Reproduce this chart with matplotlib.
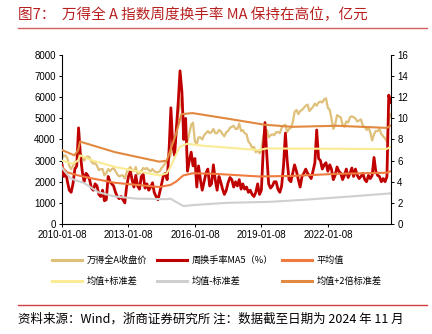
import matplotlib
matplotlib.use("Agg")
import matplotlib.pyplot as plt
import matplotlib.dates as mdates
from matplotlib.lines import Line2D
import pandas as pd
import numpy as np

plt.rcParams['font.family'] = ['Noto Sans CJK SC', 'DejaVu Sans']

# ---------------- data (monthly readings) ----------------
index_close = [
    # 2010
    3300, 3200, 3250, 3100, 2750, 2600, 2750, 2950, 2900, 3300, 3350, 3150,
    # 2011
    3000, 3150, 3200, 3150, 2950, 2850, 2900, 2750, 2550, 2600, 2600, 2300,
    # 2012
    2400, 2600, 2500, 2600, 2650, 2500, 2350, 2250, 2300, 2300, 2150, 2450,
    # 2013
    2600, 2700, 2550, 2500, 2700, 2350, 2400, 2500, 2650, 2600, 2650, 2550,
    # 2014
    2500, 2600, 2500, 2450, 2450, 2500, 2650, 2750, 2900, 2950, 3100, 3300,
    # 2015
    3500, 3700, 4300, 5200, 5600, 6100, 4800, 4300, 3900, 4300, 4700, 4800,
    # 2016
    3900, 3800, 4100, 4100, 4000, 4200, 4300, 4400, 4300, 4350, 4500, 4300,
    # 2017
    4300, 4450, 4400, 4250, 4150, 4350, 4400, 4550, 4600, 4650, 4500, 4500,
    # 2018
    4750, 4400, 4450, 4300, 4250, 3900, 3800, 3600, 3650, 3400, 3500, 3350,
    # 2019
    3500, 4100, 4450, 4450, 4100, 4200, 4250, 4200, 4350, 4350, 4300, 4550,
    # 2020
    4650, 4700, 4350, 4500, 4550, 4800, 5300, 5400, 5200, 5350, 5400, 5500,
    # 2021
    5600, 5650, 5350, 5450, 5550, 5700, 5600, 5750, 5800, 5750, 5900, 5950,
    # 2022
    5500, 5400, 5000, 4500, 4700, 5150, 5100, 5050, 4700, 4600, 4850, 4800,
    # 2023
    5050, 5100, 5050, 5000, 4850, 4900, 4950, 4650, 4600, 4450, 4550, 4350,
    # 2024
    3950, 4250, 4400, 4400, 4500, 4250, 4150, 4050, 3900, 4950, 5200,
]

turnover_ma5 = [
    # 2010
    5.6, 4.5, 5.0, 4.0, 3.2, 3.0, 3.8, 5.2, 5.5, 9.1, 6.5, 5.0,
    # 2011
    4.0, 4.8, 4.6, 4.2, 3.4, 3.2, 3.8, 3.6, 2.8, 2.6, 3.2, 2.2,
    # 2012
    2.3, 4.5, 4.0, 3.8, 3.6, 3.0, 2.6, 2.4, 2.6, 2.3, 2.0, 3.5,
    # 2013
    4.5, 5.0, 4.2, 3.5, 4.6, 3.6, 3.3, 4.5, 4.7, 3.4, 3.8, 3.2,
    # 2014
    3.5, 3.9, 3.0, 2.6, 2.3, 3.0, 3.8, 4.6, 4.8, 4.2, 7.0, 11.0,
    # 2015
    7.5, 6.5, 9.0, 11.5, 14.5, 12.5, 8.0, 10.0, 5.0, 6.0, 6.8, 5.5,
    # 2016
    6.2, 3.5, 5.5, 4.2, 3.2, 4.0, 4.8, 5.2, 3.6, 3.8, 5.6, 4.2,
    # 2017
    3.2, 4.5, 4.0, 3.3, 2.8, 3.2, 3.9, 4.4, 4.2, 3.5, 4.0, 3.6,
    # 2018
    4.2, 3.3, 3.8, 3.3, 3.5, 3.0, 3.2, 2.8, 2.6, 3.0, 3.8, 2.8,
    # 2019
    3.2, 7.0, 9.6, 6.5, 3.8, 3.4, 3.6, 4.0, 4.0, 3.3, 3.0, 3.6,
    # 2020
    5.5, 8.6, 6.0, 4.2, 4.0, 4.8, 5.6, 5.0, 4.2, 3.5, 4.5, 4.8,
    # 2021
    5.2, 4.8, 4.6, 4.3, 5.0, 5.8, 8.9, 6.2, 6.0, 5.2, 5.6, 5.8,
    # 2022
    5.0, 5.6, 5.2, 4.2, 4.6, 5.4, 5.0, 4.8, 4.2, 4.6, 5.2, 4.4,
    # 2023
    4.8, 5.3, 4.5, 5.2, 4.6, 4.3, 4.5, 4.8, 4.2, 4.0, 4.6, 4.3,
    # 2024
    4.6, 6.3, 5.0, 4.6, 4.5, 4.0, 4.3, 4.0, 4.5, 12.2, 11.5,
]

mean_dates = ['2010-01-08', '2010-04-01', '2010-10-01', '2011-06-01', '2012-06-01',
              '2013-06-01', '2014-06-01', '2014-12-01', '2015-03-01', '2015-07-01',
              '2015-12-01', '2016-12-01', '2018-12-01', '2020-06-01', '2022-06-01',
              '2024-09-01', '2024-11-08']
mean_vals = [5.4, 4.9, 4.6, 4.3, 3.9, 3.7, 3.5, 3.7, 4.0, 4.6, 4.8, 4.75, 4.5, 4.55,
             4.75, 4.85, 5.0]

plus1_dates = ['2010-01-08', '2010-07-01', '2010-10-01', '2010-11-01', '2011-06-01',
               '2012-06-01', '2013-06-01', '2014-06-01', '2014-10-01', '2014-12-01',
               '2015-05-01', '2015-09-01', '2016-06-01', '2018-12-01', '2019-04-01',
               '2024-09-01', '2024-11-08']
plus1_vals = [6.0, 5.7, 6.0, 6.5, 6.0, 5.4, 5.0, 4.6, 4.8, 5.4, 7.3, 7.6, 7.4, 7.0,
              7.15, 7.1, 7.3]

minus1_dates = ['2010-01-08', '2010-06-01', '2011-01-01', '2011-09-01', '2012-06-01',
                '2013-06-01', '2014-10-01', '2014-12-01', '2015-03-01', '2015-07-01',
                '2016-01-01', '2017-06-01', '2019-06-01', '2021-01-01', '2023-01-01',
                '2024-11-08']
minus1_vals = [5.3, 4.3, 3.9, 3.0, 2.6, 2.4, 2.35, 2.4, 2.1, 1.7, 1.8, 2.0, 2.1, 2.3,
               2.6, 2.9]

plus2_dates = ['2010-01-08', '2010-08-01', '2010-10-01', '2010-11-01', '2012-06-01',
               '2014-06-01', '2014-10-01', '2014-12-01', '2015-03-01', '2015-06-01',
               '2015-12-01', '2017-06-01', '2019-03-01', '2020-06-01', '2022-06-01',
               '2024-09-01', '2024-11-08']
plus2_vals = [7.0, 6.5, 7.0, 7.8, 6.8, 5.9, 6.0, 7.0, 8.5, 10.4, 10.5, 10.0, 9.4, 9.2,
              9.3, 9.1, 9.3]

tick_dates = ['2010-01-08', '2013-01-08', '2016-01-08', '2019-01-08', '2022-01-08']

labels = ['万得全A收盘价', '周换手率MA5（%）', '平均值',
          '均值+标准差', '均值-标准差', '均值+2倍标准差']

# ---------------- figure ----------------
dates = pd.date_range('2010-01-01', periods=len(index_close), freq='MS') + pd.Timedelta(days=7)

C_TAN = '#DFC07A'
C_RED = '#C00000'
C_MEAN = '#EF7B3E'
C_P1 = '#FBEB94'
C_M1 = '#CFCFCF'
C_P2 = '#E0893F'

fig = plt.figure(figsize=(4.32, 3.34), dpi=100)
ax = fig.add_axes([62/432, 1-224/334, (391-62)/432, (224-55)/334])
ax2 = ax.twinx()

ax.plot(dates, index_close, color=C_TAN, lw=1.6)
ax2.plot(dates, turnover_ma5, color=C_RED, lw=2.0)
ax2.plot(pd.to_datetime(mean_dates), mean_vals, color=C_MEAN, lw=1.5)
ax2.plot(pd.to_datetime(plus1_dates), plus1_vals, color=C_P1, lw=1.5)
ax2.plot(pd.to_datetime(minus1_dates), minus1_vals, color=C_M1, lw=1.5)
ax2.plot(pd.to_datetime(plus2_dates), plus2_vals, color=C_P2, lw=1.5)

ax.set_ylim(0, 8000)
ax.set_yticks(range(0, 8001, 1000))
ax2.set_ylim(0, 16)
ax2.set_yticks(range(0, 17, 2))
ax.set_xlim(pd.Timestamp('2010-01-08'), pd.Timestamp('2024-11-14'))
ax.set_xticks(pd.to_datetime(tick_dates))
ax.xaxis.set_major_formatter(mdates.DateFormatter('%Y-%m-%d'))

for a in (ax, ax2):
    a.spines['top'].set_visible(False)
    a.tick_params(labelsize=7, length=2.5, width=0.7, direction='out', pad=2)
    for lab in a.get_xticklabels() + a.get_yticklabels():
        lab.set_fontfamily('Liberation Sans')
    for s in a.spines.values():
        s.set_linewidth(0.8)
ax.spines['right'].set_visible(False)
ax2.spines['left'].set_visible(False)
ax2.spines['bottom'].set_visible(False)

# legend (column-major ordering to fill row-wise)
colors = [C_TAN, C_RED, C_MEAN, C_P1, C_M1, C_P2]
handles = [Line2D([0], [0], color=c, lw=2.2) for c in colors]
order = [0, 3, 1, 4, 2, 5]
fig.legend([handles[i] for i in order], [labels[i] for i in order], ncol=3,
           loc='center', bbox_to_anchor=(217/432, 1-271/334), frameon=False,
           fontsize=6.6, handlelength=3.3, handletextpad=0.5,
           columnspacing=1.0, labelspacing=1.25)

# title and footer
fig.text(18/432, 1-15/334, '图7：  万得全 A 指数周度换手率 MA 保持在高位，亿元',
         fontsize=10.5, color='#B82020', va='center', ha='left')
fig.add_artist(Line2D([18/432, 427/432], [1-28/334, 1-28/334], color='#D06060', lw=1.0))
fig.add_artist(Line2D([18/432, 427/432], [1-305/334, 1-305/334], color='#D04040', lw=1.0))
fig.text(18/432, 1-319/334, '资料来源：Wind，浙商证券研究所 注：数据截至日期为 2024 年 11 月',
         fontsize=9, color='black', va='center', ha='left')

fig.savefig('out.png', dpi=100)
